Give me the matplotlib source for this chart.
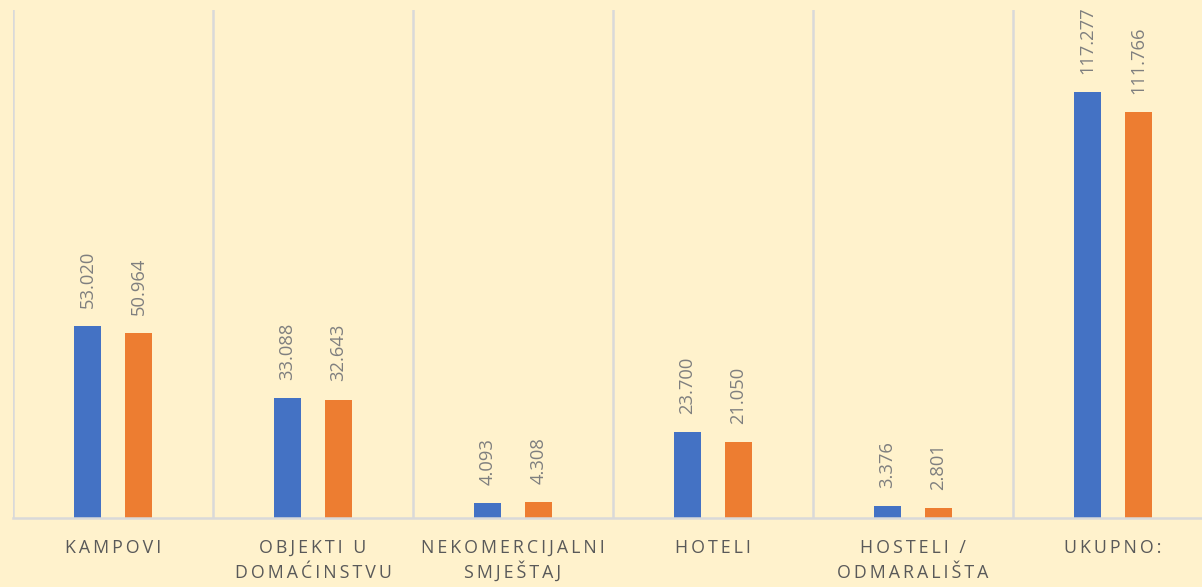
import matplotlib
matplotlib.use("Agg")
import matplotlib.pyplot as plt
import matplotlib.transforms as mtransforms
import numpy as np

categories = ["KAMPOVI", "OBJEKTI U\nDOMAĆINSTVU", "NEKOMERCIJALNI\nSMJEŠTAJ", "HOTELI",
              "HOSTELI /\nODMARALIŠTA", "UKUPNO:"]
series_a = [53.020, 33.088, 4.093, 23.700, 3.376, 117.277]
series_b = [50.964, 32.643, 4.308, 21.050, 2.801, 111.766]

BG = "#FFF2CC"
W, H = 1202, 587
fig = plt.figure(figsize=(W/100, H/100), dpi=100, facecolor=BG)
ax = fig.add_axes([13/W, (H-518)/H, 1200/W, 508/H])
ax.set_facecolor(BG)

x = np.arange(len(categories))
bw = 0.137
off = 0.128
ax.bar(x - off, series_a, bw, color="#4472C4", zorder=3)
ax.bar(x + off, series_b, bw, color="#ED7D31", zorder=3)

def fmt(v):
    return f"{v:.3f}"

for xs, vals in ((x - off, series_a), (x + off, series_b)):
    for xi, v in zip(xs, vals):
        ax.annotate(fmt(v), (xi, v), xytext=(0, 13), textcoords="offset points", rotation=90,
                    ha="center", va="bottom", fontsize=13.2, color="#7F7F7F", family="Open Sans")

ax.set_xlim(-0.5, len(categories) - 0.5)
ax.set_ylim(0, 140)
for b in np.arange(-0.5, len(categories) + 0.5, 1):
    ax.axvline(b, color="#D9D9D9", lw=1.8, zorder=1)
for s in ax.spines.values():
    s.set_visible(False)
ax.axhline(0, color="#D9D9D9", lw=1.8, zorder=4, clip_on=False)
ax.set_yticks([])
ax.set_xticks([])

trans = mtransforms.blended_transform_factory(ax.transData, fig.transFigure)
baselines = [553, 578]
for xi, cat in zip(x, categories):
    for li, line in enumerate(cat.split("\n")):
        spaced = "\u2009".join(list(line))
        ax.text(xi, (H - baselines[li]) / H, spaced, transform=trans, ha="center", va="baseline",
                fontsize=12.8, color="#595959", family=["Open Sans", "DejaVu Sans"], clip_on=False)

fig.savefig("out.png", dpi=100, facecolor=BG)
